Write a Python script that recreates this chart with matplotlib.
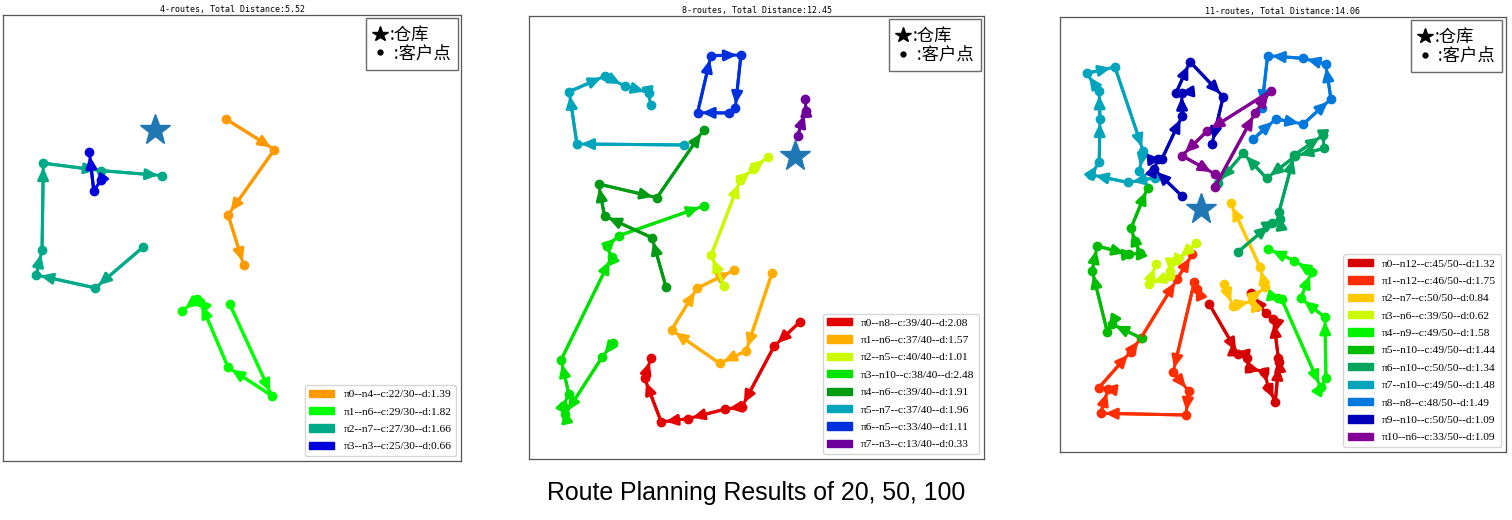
import matplotlib
matplotlib.use('Agg')
import matplotlib.pyplot as plt
from matplotlib.lines import Line2D
from matplotlib.patches import Patch

plt.rcParams['font.family'] = ['Noto Sans CJK SC', 'DejaVu Sans']

# customer coordinates, one list of points per route (in visiting order)
routes_20 = [
    [(225.7, 119.0), (274.3, 149.7), (228.0, 215.0), (243.7, 265.3)],
    [(229.7, 304.3), (271.7, 395.7), (228.0, 367.3), (200.0, 301.7), (197.3, 299.0), (181.7, 311.3)],
    [(143.3, 247.0), (95.3, 288.0), (36.3, 275.0), (42.0, 250.3), (43.3, 163.3), (100.7, 170.7), (162.3, 175.7)],
    [(101.3, 180.0), (93.7, 190.7), (89.3, 152.0)],
]
depot_20 = (155.3, 130.0)
labels_20 = ['π0--n4--c:22/30--d:1.39', 'π1--n6--c:29/30--d:1.82',
             'π2--n7--c:27/30--d:1.66', 'π3--n3--c:25/30--d:0.66']
title_20 = '4-routes, Total Distance:5.52'

routes_50 = [
    [(799.3, 322.3), (774.0, 346.0), (741.7, 406.7), (724.3, 409.3), (687.7, 418.7), (661.0, 422.0), (644.3, 378.3), (650.7, 358.0)],
    [(771.7, 273.3), (745.7, 351.0), (719.3, 363.3), (671.3, 330.0), (696.7, 288.3), (733.7, 270.3)],
    [(723.7, 286.0), (711.0, 255.0), (740.0, 180.0), (753.0, 168.7), (767.5, 157.0)],
    [(612.5, 343.3), (601.7, 357.5), (565.0, 414.3), (563.0, 405.7), (568.7, 394.2), (560.8, 360.0),
     (611.3, 257.2), (606.7, 246.3), (618.7, 235.7), (703.3, 206.0)],
    [(665.7, 286.7), (651.7, 237.7), (604.3, 216.0), (598.3, 184.0), (656.7, 197.7), (703.3, 130.0)],
    [(683.7, 145.0), (576.7, 144.0), (569.0, 91.7), (605.0, 76.0), (624.3, 86.0), (648.3, 92.7), (650.3, 104.7)],
    [(728.3, 113.0), (697.3, 112.7), (710.7, 55.7), (740.7, 55.0), (735.0, 108.3)],
    [(797.3, 135.7), (805.7, 111.0), (805.0, 99.0)],
]
depot_50 = (795.0, 156.0)
labels_50 = ['π0--n8--c:39/40--d:2.08', 'π1--n6--c:37/40--d:1.57', 'π2--n5--c:40/40--d:1.01',
             'π3--n10--c:38/40--d:2.48', 'π4--n6--c:39/40--d:1.91', 'π5--n7--c:37/40--d:1.96',
             'π6--n5--c:33/40--d:1.11', 'π7--n3--c:13/40--d:0.33']
title_50 = '8-routes, Total Distance:12.45'

routes_100 = [
    [(1209.3, 304.0), (1238.3, 354.3), (1246.7, 358.0), (1249.3, 368.3), (1264.3, 371.7), (1268.3, 386.7),
     (1275.3, 402.0), (1279.0, 362.5), (1278.5, 358.5), (1273.5, 319.5), (1266.0, 313.5), (1251.0, 293.5)],
    [(1197.3, 289.0), (1194.3, 282.3), (1173.3, 372.0), (1188.7, 391.0), (1186.0, 415.0), (1100.7, 413.3),
     (1108.3, 389.0), (1099.0, 387.7), (1130.7, 351.7), (1141.0, 338.0), (1177.3, 279.0), (1192.3, 254.3)],
    [(1224.3, 284.0), (1232.7, 305.7), (1253.3, 301.0), (1252.0, 297.5), (1265.3, 287.3), (1260.0, 266.7), (1230.7, 203.3)],
    [(1196.3, 243.3), (1177.0, 260.0), (1170.3, 271.3), (1170.0, 276.5), (1148.7, 283.8), (1156.3, 264.0)],
    [(1278.0, 298.0), (1281.7, 299.0), (1320.7, 387.3), (1326.0, 378.3), (1325.0, 317.3), (1300.7, 298.3),
     (1311.7, 271.7), (1294.3, 260.7), (1268.3, 249.0)],
    [(1141.7, 338.3), (1111.7, 324.0), (1107.3, 331.7), (1092.3, 270.7), (1097.3, 246.0), (1129.0, 254.3),
     (1140.0, 253.3), (1135.0, 241.0), (1131.0, 228.3), (1147.7, 187.7)],
    [(1238.3, 251.7), (1271.7, 223.3), (1280.0, 219.0), (1279.0, 212.3), (1294.3, 155.0), (1323.3, 135.0),
     (1324.0, 148.3), (1295.5, 156.0), (1266.7, 178.3), (1243.3, 153.3), (1218.3, 182.7)],
    [(1155.3, 177.7), (1128.3, 182.5), (1091.0, 174.7), (1099.3, 162.3), (1100.0, 119.0), (1099.3, 91.3),
     (1086.7, 73.3), (1115.0, 67.0), (1143.3, 151.0), (1139.5, 170.7)],
    [(1253.3, 139.0), (1276.0, 119.0), (1303.3, 124.0), (1331.0, 99.0), (1325.7, 64.0), (1302.7, 58.3),
     (1267.7, 55.7), (1261.7, 108.3)],
    [(1181.7, 195.7), (1154.0, 169.0), (1158.3, 159.3), (1162.0, 159.0), (1182.3, 115.7), (1181.7, 92.7),
     (1176.0, 93.3), (1190.0, 61.7), (1223.3, 96.7), (1212.0, 144.3)],
    [(1215.0, 186.7), (1255.3, 112.7), (1270.7, 91.0), (1207.3, 131.0), (1182.0, 155.7), (1215.0, 174.0)],
]
depot_100 = (1201.0, 209.3)
labels_100 = ['π0--n12--c:45/50--d:1.32', 'π1--n12--c:46/50--d:1.75', 'π2--n7--c:50/50--d:0.84',
              'π3--n6--c:39/50--d:0.62', 'π4--n9--c:49/50--d:1.58', 'π5--n10--c:49/50--d:1.44',
              'π6--n10--c:50/50--d:1.34', 'π7--n10--c:49/50--d:1.48', 'π8--n8--c:48/50--d:1.49',
              'π9--n10--c:50/50--d:1.09', 'π10--n6--c:33/50--d:1.09']
title_100 = '11-routes, Total Distance:14.06'

caption = 'Route Planning Results of 20, 50, 100'


def draw_panel(ax, routes, depot, labels, title):
    n = len(routes)
    cmap = plt.cm.nipy_spectral
    handles = []
    for i, route in enumerate(routes):
        c = cmap(1 - (i + 1) / (n + 1))
        xs = [p[0] for p in route]
        ys = [p[1] for p in route]
        ax.plot(xs, ys, color=c, lw=2.2, marker='o', ms=6, zorder=2)
        for a, b in zip(route[:-1], route[1:]):
            ax.annotate('', xy=b, xytext=a,
                        arrowprops=dict(arrowstyle='-|>,head_length=0.7,head_width=0.32',
                                        color=c, lw=2.2, shrinkA=0, shrinkB=3), zorder=3)
        handles.append(Patch(color=c, label=labels[i]))
    ax.plot(depot[0], depot[1], marker='*', ms=23, color='#1f77b4', ls='', zorder=4)

    leg1 = ax.legend(handles=handles, loc='lower right', prop={'family': 'Liberation Serif', 'size': 8.2},
                     handlelength=2.2, handleheight=0.6, labelspacing=0.68, borderaxespad=0.45)
    ax.add_artist(leg1)
    sym = [Line2D([], [], marker='*', color='k', ls='', ms=11.5),
           Line2D([], [], marker='.', color='k', ls='', ms=7)]
    ax.legend(handles=sym, labels=[':仓库', ' :客户点'], loc='upper right', fontsize=12.5,
              fancybox=False, edgecolor='#444444', handlelength=0.8, handletextpad=0.15,
              labelspacing=0.05, borderaxespad=0.2, borderpad=0.42)

    ax.set_title(title, fontsize=6, family='DejaVu Sans Mono', pad=2)
    ax.set_xticks([])
    ax.set_yticks([])
    for s in ax.spines.values():
        s.set_color('#555555')
        s.set_linewidth(0.9)


fig = plt.figure(figsize=(15.12, 5.2), dpi=100)

ax1 = fig.add_axes([0.002, 0.1135, 0.303, 0.858])
ax1.set_xlim(3, 461)
ax1.set_ylim(461, 15)
draw_panel(ax1, routes_20, depot_20, labels_20, title_20)

ax2 = fig.add_axes([0.350, 0.1173, 0.301, 0.852])
ax2.set_xlim(529, 984)
ax2.set_ylim(459, 16)
draw_panel(ax2, routes_50, depot_50, labels_50, title_50)

ax3 = fig.add_axes([0.701, 0.1308, 0.295, 0.8365])
ax3.set_xlim(1060, 1506)
ax3.set_ylim(452, 17)
draw_panel(ax3, routes_100, depot_100, labels_100, title_100)

fig.text(0.5, 0.052, caption, ha='center', va='center', fontsize=17.9, family='Liberation Sans')

fig.savefig('out.png', dpi=100)
